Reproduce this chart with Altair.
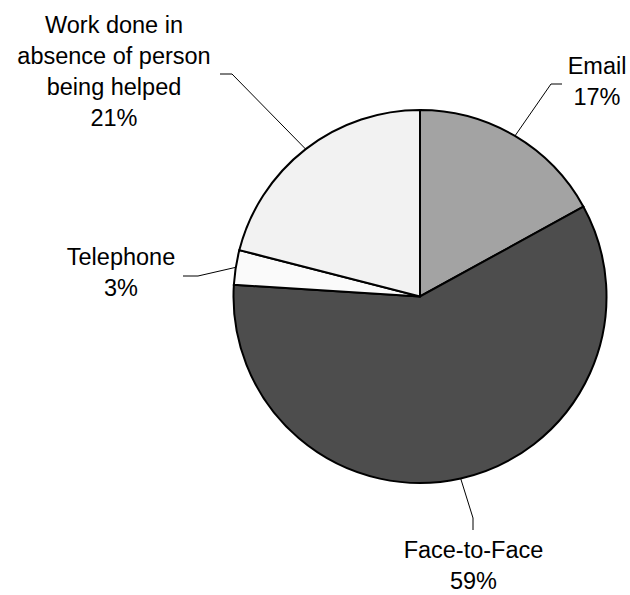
import math
import altair as alt
import pandas as pd

# ---- data ----
categories = ["Email", "Face-to-Face", "Telephone",
              "Work done in absence of person being helped"]
shares = [17, 59, 3, 21]
label_text = ["Email\n17%", "Face-to-Face\n59%", "Telephone\n3%",
              "Work done in\nabsence of person\nbeing helped\n21%"]
colors = ["#A3A3A3", "#4D4D4D", "#FAFAFA", "#F2F2F2"]

# ---- layout (pixels) ----
W, H = 630, 595
CX, CY, R = 420, 296.5, 186.5
label_xy = [(597, 74), (473.5, 558), (121, 265), (114, 33)]        # text centre x, first baseline y
leader_elbow = [(551, 84), (473, 518), (198, 276), (232, 74)]
leader_end = [(562, 84), (473, 530), (183, 276), (220, 74)]

pie_df = pd.DataFrame({"category": categories, "share": shares,
                       "idx": list(range(len(categories)))})

# leader start points: on the pie edge at each slice's mid-angle
total = sum(shares)
segs = []
cum = 0
for i, s in enumerate(shares):
    mid = (cum + s / 2) / total * 2 * math.pi
    cum += s
    sx, sy = CX + R * math.sin(mid), CY - R * math.cos(mid)
    ex, ey = leader_elbow[i]
    tx, ty = leader_end[i]
    segs.append({"x": sx, "y": sy, "x2": ex, "y2": ey})
    segs.append({"x": ex, "y": ey, "x2": tx, "y2": ty})
seg_df = pd.DataFrame(segs)

lab_df = pd.DataFrame({"text": label_text,
                       "x": [p[0] for p in label_xy],
                       "y": [p[1] for p in label_xy]})

pie = alt.Chart(pie_df).mark_arc(outerRadius=R, stroke="black", strokeWidth=2).encode(
    theta=alt.Theta("share:Q", stack=True),
    order=alt.Order("idx:Q"),
    color=alt.Color("category:N", scale=alt.Scale(domain=categories, range=colors), legend=None),
    x=alt.value(CX),
    y=alt.value(CY),
)

leaders = alt.Chart(seg_df).mark_rule(color="black", strokeWidth=1).encode(
    x=alt.X("x:Q", scale=None, axis=None),
    x2="x2:Q",
    y=alt.Y("y:Q", scale=None, axis=None),
    y2="y2:Q",
)

labels = alt.Chart(lab_df).mark_text(
    lineBreak="\n", align="center", baseline="alphabetic",
    fontSize=23.5, font="Liberation Sans", lineHeight=31, color="black",
).encode(
    x=alt.X("x:Q", scale=None, axis=None),
    y=alt.Y("y:Q", scale=None, axis=None),
    text="text:N",
)

chart = alt.layer(leaders, pie, labels).properties(
    width=W, height=H, padding=0, autosize=alt.AutoSizeParams(type="none"),
    background="white",
).resolve_scale(color="independent").configure_view(stroke=None)

chart.save("out.html", embed_options={"renderer": "svg", "actions": False})
